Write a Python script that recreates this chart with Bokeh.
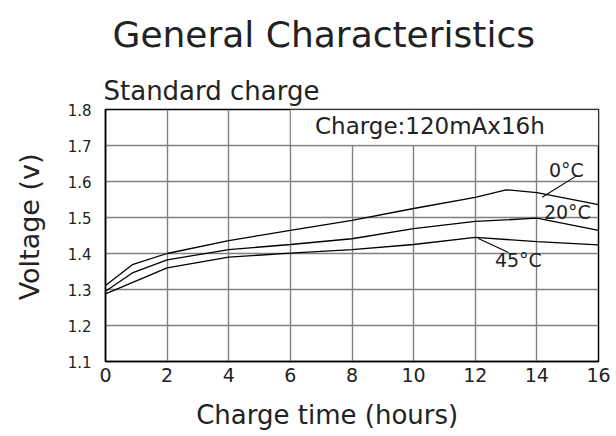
from bokeh.plotting import figure
from bokeh.models import Range1d, FixedTicker, Label, BoxAnnotation, Title
from bokeh.embed import file_html
from bokeh.resources import INLINE

FONT = "DejaVu Sans"
TXT = "#222222"
NB = "\u00a0"

# data
hours_0c = [0, 0.87, 2, 4, 6, 8, 10, 12, 13, 14, 16]
volt_0c = [1.311, 1.369, 1.400, 1.436, 1.464, 1.492, 1.525, 1.556, 1.577, 1.569, 1.536]
hours_20c = [0, 0.87, 2, 4, 6, 8, 10, 12, 14, 16]
volt_20c = [1.295, 1.346, 1.382, 1.411, 1.425, 1.441, 1.469, 1.489, 1.498, 1.464]
hours_45c = [0, 2, 4, 6, 8, 10, 12, 14, 16]
volt_45c = [1.288, 1.360, 1.390, 1.401, 1.411, 1.425, 1.445, 1.433, 1.424]

x_ticks = [0, 2, 4, 6, 8, 10, 12, 14, 16]
y_ticks = [1.1, 1.2, 1.3, 1.4, 1.5, 1.6, 1.7, 1.8]

title_text = "General Characteristics"
subtitle_text = "Standard charge"
x_label = "Charge time (hours)"
y_label = "Voltage (v)"
note_text = "Charge:120mAx16h"

p = figure(width=616, height=436, output_backend="svg", toolbar_location=None,
           x_range=Range1d(0, 16), y_range=Range1d(1.1, 1.8),
           min_border_left=105, min_border_right=18, min_border_top=109, min_border_bottom=75)
p.background_fill_color = "white"
p.border_fill_color = "white"
p.outline_line_color = "black"
p.outline_line_width = 1.5

p.add_layout(Title(text=subtitle_text, align="left", offset=-2, standoff=8,
                   text_font=FONT, text_font_size="26px", text_font_style="normal",
                   text_color=TXT), "above")
p.add_layout(Title(text=title_text, align="left", offset=7, standoff=25,
                   vertical_align="top",
                   text_font=FONT, text_font_size="36px", text_font_style="normal",
                   text_color=TXT), "above")

for ax in (p.xaxis[0], p.yaxis[0]):
    ax.major_tick_line_color = None
    ax.minor_tick_line_color = None
    ax.axis_line_color = "black"
    ax.axis_line_width = 1.5
    ax.major_label_text_font = FONT
    ax.major_label_text_color = TXT
    ax.axis_label_text_font = FONT
    ax.axis_label_text_font_style = "normal"
    ax.axis_label_text_color = TXT

p.xaxis.ticker = FixedTicker(ticks=x_ticks)
p.yaxis.ticker = FixedTicker(ticks=y_ticks)
p.yaxis.major_label_overrides = {t: f"{t:.1f}" for t in y_ticks}
p.xaxis.major_label_text_font_size = "19px"
p.yaxis.major_label_text_font_size = "15px"
p.xaxis.major_label_standoff = 0
p.yaxis.major_label_standoff = 8
p.xaxis.axis_label = x_label + NB * 6
p.yaxis.axis_label = NB * 2 + y_label
p.xaxis.axis_label_text_font_size = "26px"
p.yaxis.axis_label_text_font_size = "27px"
p.xaxis.axis_label_standoff = 15
p.yaxis.axis_label_standoff = 20

p.xgrid.ticker = FixedTicker(ticks=x_ticks)
p.ygrid.ticker = FixedTicker(ticks=y_ticks)
for g in (p.xgrid[0], p.ygrid[0]):
    g.grid_line_color = "#808080"
    g.grid_line_width = 1.4

# note box
box_left, box_right, box_bottom, box_top = 6, 16, 1.7, 1.8
p.add_layout(BoxAnnotation(left=box_left, right=box_right, bottom=box_bottom, top=box_top,
                           fill_color="white", fill_alpha=1.0,
                           line_color="black", line_width=1.3, level="underlay"))

for xs, ys in ((hours_0c, volt_0c), (hours_20c, volt_20c), (hours_45c, volt_45c)):
    p.line(xs, ys, line_color="black", line_width=1.3)

# leader lines for temperature labels
lead_0c_x = [14.17, 15.31]
lead_0c_y = [1.556, 1.617]
lead_45c_x = [12.1, 13.08]
lead_45c_y = [1.442, 1.403]
p.line(lead_0c_x, lead_0c_y, line_color="black", line_width=1.1)
p.line(lead_45c_x, lead_45c_y, line_color="black", line_width=1.1)

def lab(x, y, text, size, align="center"):
    p.add_layout(Label(x=x, y=y, text=text, text_font=FONT, text_font_size=size,
                       text_align=align, text_baseline="middle", text_color=TXT))

lab(14.96, 1.633, "0°C", "19px")
lab(14.99, 1.515, "20°C", "19px")
lab(13.4, 1.381, "45°C", "19px")
lab(6.8, 1.753, note_text, "23px", align="left")

open("out.html", "w").write(file_html(p, INLINE))
